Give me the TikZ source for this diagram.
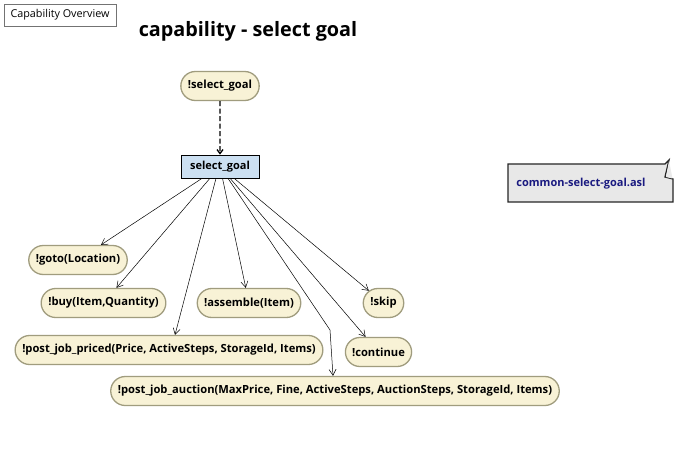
\documentclass[tikz,border=0pt]{standalone}
\usepackage{fontspec}
\setmainfont{Open Sans}
\usetikzlibrary{arrows.meta,shapes.misc}
\definecolor{goalfill}{HTML}{F8F2D6}
\definecolor{goaldraw}{HTML}{A09C7E}
\definecolor{capfill}{HTML}{CCE0F2}
\definecolor{notefill}{HTML}{E8E8E8}
\definecolor{notetext}{HTML}{1A1A80}
\tikzset{
  goal/.style={rounded rectangle, draw=goaldraw, line width=1.3pt, fill=goalfill,
    minimum height=29pt, inner xsep=6pt, font=\fontsize{11.2}{13}\selectfont\bfseries},
  capbox/.style={rectangle, draw=black, line width=0.7pt, fill=capfill, minimum height=23pt,
    minimum width=78pt, font=\fontsize{11}{13}\selectfont\bfseries},
  link/.style={-{Straight Barb[length=6pt,width=7pt]}, line width=0.5pt, black},
  dlink/.style={-{Straight Barb[length=4pt,width=6pt]}, line width=1.3pt, dash pattern=on 5pt off 2.5pt},
}
\begin{document}
\begin{tikzpicture}[x=1pt,y=-1pt]
\useasboundingbox[fill=white] (0,0) rectangle (684,454);
\node[draw=gray!90!black, line width=0.6pt, inner sep=2pt, minimum height=22pt, minimum width=112pt,
  font=\fontsize{10.8}{12}\selectfont] (ov) at (60,15) {Capability Overview};
\node[font=\fontsize{19.8}{23}\selectfont\bfseries] (title) at (248,31) {capability - select goal};

\node[goal] (tsg) at (220,86) {!select\_goal};
\node[capbox] (sg) at (220,166.5) {select\_goal};

% note
\path[draw=black!85, line width=1.3pt, fill=notefill]
  (508,164) -- (665,164) -- (669,160) -- (665,177) -- (673,179) -- (673,202) -- (508,202) -- cycle;
\fill[white!92!black] (669,161) -- (672.5,178.5) -- (666,177) -- cycle;
\node[font=\fontsize{11}{13}\selectfont\bfseries, text=notetext] (note) at (581,184) {common-select-goal.asl};

\node[goal] (goto) at (78,260) {!goto(Location)};
\node[goal] (buy) at (103.5,303) {!buy(Item,Quantity)};
\node[goal] (asm) at (249,303) {!assemble(Item)};
\node[goal] (skip) at (383.5,303) {!skip};
\node[goal] (cont) at (378.5,352) {!continue};
\node[goal] (priced) at (169,350) {!post\_job\_priced(Price, ActiveSteps, StorageId, Items)};
\node[goal] (auct) at (335,391) {!post\_job\_auction(MaxPrice, Fine, ActiveSteps, AuctionSteps, StorageId, Items)};

\draw[dlink] (tsg) -- (sg);
\draw[link] (sg) -- (goto);
\draw[link] (sg) -- (buy);
\draw[link] (sg.south) ++(-4,0) coordinate (p1) -- (priced.north -| 175,0);
\draw[link] (sg) -- (asm);
\coordinate (bend) at (330,330);
\draw[link] (sg.south) ++(8,0) coordinate (p2) -- (bend) -- (auct.north -| 333,0);
\draw[link] (sg) -- (cont);
\draw[link] (sg) -- (skip);
\end{tikzpicture}
\end{document}
